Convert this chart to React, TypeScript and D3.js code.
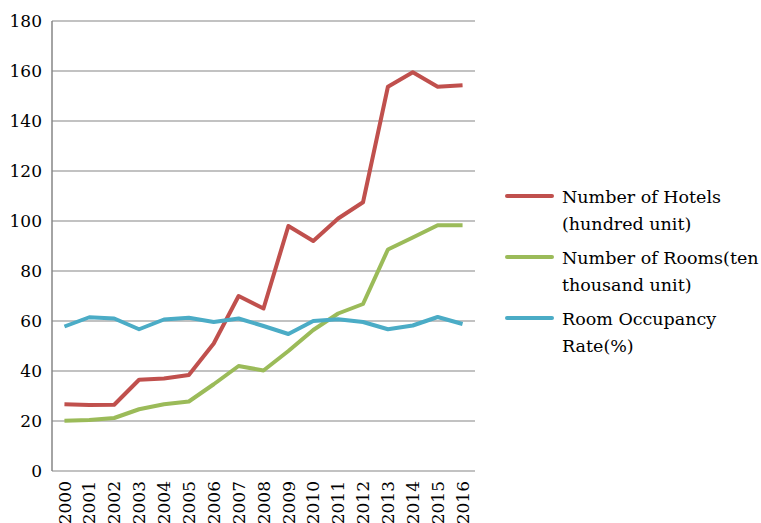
import React from 'react';
import * as d3 from 'd3';

const years = ['2000', '2001', '2002', '2003', '2004', '2005', '2006', '2007', '2008', '2009', '2010', '2011', '2012', '2013', '2014', '2015', '2016'];
const hotels = [26.7, 26.4, 26.5, 36.5, 37, 38.4, 51, 70, 65, 98, 92, 101, 107.5, 153.7, 159.5, 153.7, 154.3];
const rooms = [20.1, 20.4, 21.2, 24.7, 26.7, 27.8, 34.7, 42, 40.2, 48, 56.4, 63, 66.8, 88.6, 93.4, 98.3, 98.3];
const occupancy = [57.8, 61.5, 61, 56.7, 60.6, 61.3, 59.6, 61, 58, 54.8, 60, 60.7, 59.6, 56.7, 58.2, 61.6, 58.8];
const yTicks = [0, 20, 40, 60, 80, 100, 120, 140, 160, 180];

const series = [
  { name: ['Number of Hotels', '(hundred unit)'], values: hotels, color: '#C0504D' },
  { name: ['Number of Rooms(ten', 'thousand unit)'], values: rooms, color: '#9BBB59' },
  { name: ['Room Occupancy', 'Rate(%)'], values: occupancy, color: '#4BACC6' },
];

const FONT = 'DejaVu Serif, serif';

const App: React.FC = () => {
  const width = 761;
  const height = 523;
  const left = 52;
  const right = 475;
  const top = 21;
  const bottom = 471;

  const x = d3.scaleBand().domain(years).range([left, right]);
  const y = d3.scaleLinear().domain([0, 180]).range([bottom, top]);

  const line = d3
    .line<number>()
    .x((_, i) => (x(years[i]) as number) + x.bandwidth() / 2)
    .y((d) => y(d));

  return (
    <svg
      width={width}
      height={height}
      style={{ position: 'absolute', left: 0, top: 0, background: '#fff' }}
    >
      {/* gridlines */}
      {yTicks.map((t) => (
        <line key={t} x1={left} x2={right} y1={y(t)} y2={y(t)} stroke="#868686" strokeWidth={1.2} />
      ))}
      {/* y axis */}
      <line x1={left} x2={left} y1={top} y2={bottom} stroke="#868686" strokeWidth={1.5} />
      {yTicks.map((t) => (
        <text key={t} x={42} y={y(t)} dy="0.36em" textAnchor="end" fontSize={17} fill="#000" fontFamily={FONT}>
          {t}
        </text>
      ))}
      {/* x labels */}
      {years.map((yr) => {
        const cx = (x(yr) as number) + x.bandwidth() / 2;
        return (
          <text
            key={yr}
            transform={`translate(${cx},${bottom + 10}) rotate(-90)`}
            textAnchor="end"
            dy="0.36em"
            fontSize={17}
            fill="#000"
            fontFamily={FONT}
          >
            {yr}
          </text>
        );
      })}
      {/* lines */}
      {series.map((s) => (
        <path
          key={s.color}
          d={line(s.values) || ''}
          fill="none"
          stroke={s.color}
          strokeWidth={4}
          strokeLinejoin="round"
        />
      ))}
      {/* legend */}
      {series.map((s, i) => {
        const ly = 196 + i * 61;
        return (
          <g key={s.color}>
            <line x1={507} x2={552} y1={ly} y2={ly} stroke={s.color} strokeWidth={4} strokeLinecap="round" />
            <text x={562} y={ly + 7} fontSize={17.5} fill="#000" fontFamily={FONT}>
              {s.name[0]}
            </text>
            <text x={562} y={ly + 34} fontSize={17.5} fill="#000" fontFamily={FONT}>
              {s.name[1]}
            </text>
          </g>
        );
      })}
    </svg>
  );
};

export default App;
